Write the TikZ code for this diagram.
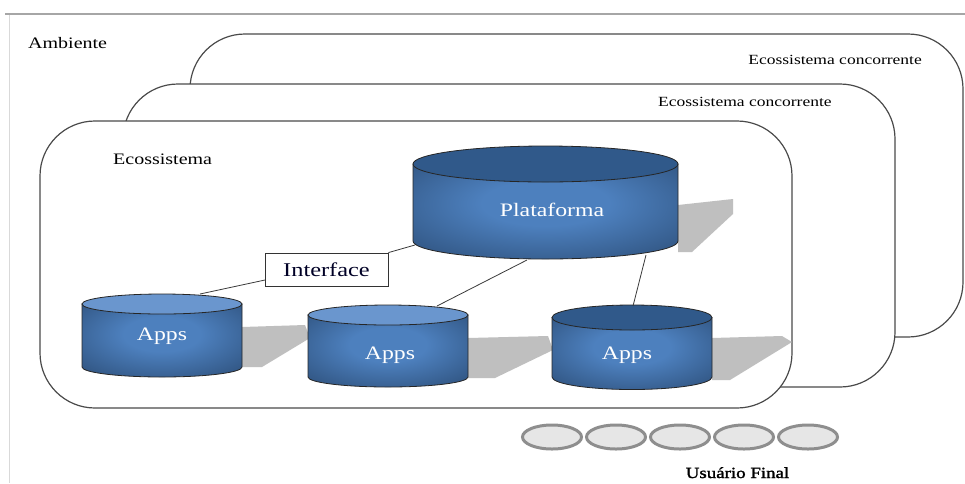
\documentclass[tikz,border=0pt]{standalone}
\usepackage{fontspec}
\setmainfont[FakeStretch=1.25]{Liberation Serif}
\newfontfamily\uffont[FakeStretch=1.22,FakeBold=1.6]{Liberation Serif}
\definecolor{boxline}{HTML}{4A4A4A}
\definecolor{cyldark}{HTML}{284870}
\definecolor{cyllight}{HTML}{4D80BE}
\definecolor{toplight}{HTML}{6A96CE}
\definecolor{topdark}{HTML}{30598A}
\definecolor{shadowgray}{HTML}{BFBFBF}
\definecolor{userfill}{HTML}{E6E6E6}
\definecolor{userline}{HTML}{8E8E8E}
\definecolor{connline}{HTML}{3A3A3A}
\pgfdeclareradialshading{cylshade}{\pgfpoint{0bp}{5bp}}{color(0bp)=(cyllight); color(12bp)=(cyllight); color(42bp)=(cyldark); color(100bp)=(cyldark)}
\tikzset{
  ecobox/.style={draw=boxline,line width=1.2pt,fill=white,rounded corners=55pt},
  lbl/.style={inner sep=0pt,font=\fontsize{16}{18}\selectfont},
  lblsmall/.style={inner sep=0pt,font=\fontsize{14}{16}\selectfont},
  cyltext/.style={inner sep=0pt,text=white,font=\fontsize{19}{21}\selectfont},
  conn/.style={draw=connline,line width=0.8pt},
  userdisk/.style={draw=userline,line width=3pt,fill=userfill},
  shadowshape/.style={fill=shadowgray}
}
\newcommand\drawcyl[6]{%
  \shadedraw[shading=cylshade,draw=black!85,line width=0.8pt]
    (#1-#4,#2) -- (#1-#4,#3) arc[start angle=180,end angle=0,x radius=#4,y radius=#5] -- (#1+#4,#2) -- cycle;
  \draw[fill=#6,draw=black!85,line width=0.8pt] (#1,#2) ellipse[x radius=#4,y radius=#5];
}
\begin{document}
\begin{tikzpicture}[x=1pt,y=1pt,yscale=-1]
\useasboundingbox[fill=white] (0,0) rectangle (965,483);
% frame
\draw[draw=black!35,line width=2pt] (5,14) -- (965,14);
\draw[draw=black!15,line width=1pt] (9,15) -- (9,483);
\node[lbl,anchor=west] (amb) at (28,43) {Ambiente};
% ecosystem boxes
\draw[ecobox] (190,34) rectangle (963,337);
\node[lblsmall,anchor=east] (conc1) at (922,60) {Ecossistema concorrente};
\draw[ecobox] (123,84) rectangle (895,387);
\node[lblsmall,anchor=west] (conc2) at (658,102) {Ecossistema concorrente};
\draw[ecobox] (40,121) rectangle (792,408);
\node[lbl,anchor=west] (eco) at (113,159) {Ecossistema};
% shadows
\fill[shadowshape] (678,205) -- (733,199) -- (733,214) -- (692,252) -- (678,252) -- cycle;
\fill[shadowshape] (242,327) -- (305,325) -- (310,338) -- (262,367) -- (242,367) -- cycle;
\fill[shadowshape] (468,338) -- (548,336) -- (553,350) -- (495,378) -- (468,378) -- cycle;
\fill[shadowshape] (712,338) -- (782,336) -- (792,342) -- (730,380) -- (712,380) -- cycle;
% cylinders
\drawcyl{545.5}{164}{241}{132.5}{18}{topdark}
\node[cyltext,anchor=base] (plat) at (552,216) {Plataforma};
\drawcyl{162}{304}{367}{80}{10}{toplight}
\node[cyltext,anchor=base] (apps1) at (162,340) {Apps};
\drawcyl{388}{315}{377}{80}{10}{toplight}
\node[cyltext,anchor=base] (apps2) at (390,359) {Apps};
\drawcyl{632}{317.5}{377}{80}{12.5}{topdark}
\node[cyltext,anchor=base] (apps3) at (627,359) {Apps};
% interface
\node[draw=black!80,line width=0.8pt,fill=white,minimum width=123pt,minimum height=33pt,inner sep=0pt,
  text=black!85!blue,font=\fontsize{19.5}{21}\selectfont] (iface) at (326.5,269.5) {Interface};
% connector end points
\coordinate (platIf) at (415,245);
\coordinate (platA2) at (527,260);
\coordinate (platA3) at (646,255);
\coordinate (ifL) at (265,280);
\coordinate (a1top) at (200,294);
\coordinate (a2top) at (437,306);
\coordinate (a3top) at (633,306);
\draw[conn] (platIf) -- (iface.north east);
\draw[conn] (ifL) -- (a1top);
\draw[conn] (platA2) -- (a2top);
\draw[conn] (platA3) -- (a3top);
% users
\foreach \i/\cx in {1/552,2/616,3/680,4/744,5/808}{
  \draw[userdisk] (\cx,437) ellipse[x radius=29.5,y radius=12];
  \coordinate (user\i) at (\cx,437);
}
\node[inner sep=0pt,anchor=base,font=\uffont\fontsize{15.5}{17}\selectfont] (uf) at (737.5,478) {Usuário Final};
\end{tikzpicture}
\end{document}
